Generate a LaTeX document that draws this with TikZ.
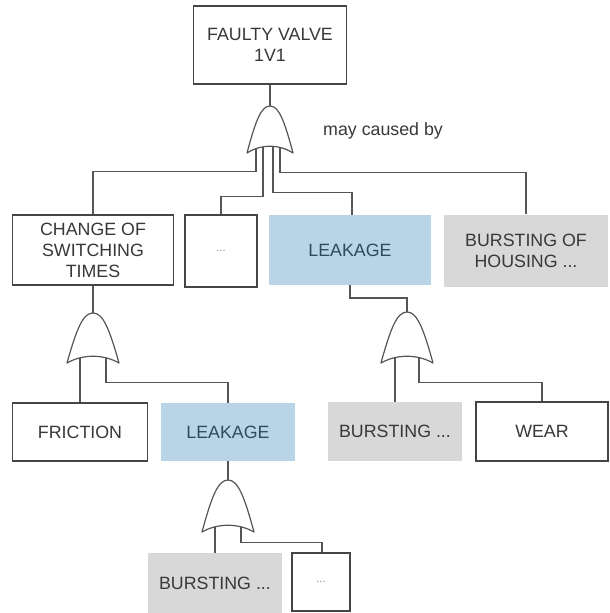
\documentclass[tikz,border=0pt]{standalone}
\usepackage{fontspec}
\setmainfont{Liberation Sans}
\usetikzlibrary{calc}
\pgfdeclarelayer{bg}
\pgfsetlayers{bg,main}

\definecolor{wiregray}{HTML}{555555}
\definecolor{framegray}{HTML}{454545}
\definecolor{txtgray}{HTML}{383838}
\definecolor{leakblue}{HTML}{B9D4E7}
\definecolor{leaktxt}{HTML}{2F4A5C}
\definecolor{burstgray}{HTML}{D8D8D8}
\definecolor{dotgray}{HTML}{8A8A8A}

\tikzset{
  evt/.style={rectangle, inner sep=0pt, align=center, text=txtgray,
    font=\fontsize{17.8}{21}\selectfont},
  whitebox/.style={evt, draw=framegray, line width=1.2pt, fill=white},
  bluebox/.style={evt, fill=leakblue, text=leaktxt},
  graybox/.style={evt, fill=burstgray},
  dotsbox/.style={whitebox, text=dotgray, font=\fontsize{11}{12}\selectfont},
  wire/.style={draw=wiregray, line width=1.2pt},
  pics/orgate/.style 2 args={code={
    \draw[draw=wiregray, line width=1.2pt, fill=white, line join=round]
      (-#1,#2) .. controls (-0.62*#1,0.3*#2) and (-0.38*#1,0) .. (0,0)
      .. controls (0.38*#1,0) and (0.62*#1,0.3*#2) .. (#1,#2)
      .. controls (0.4*#1,#2-9) and (-0.4*#1,#2-9) .. cycle;
    \coordinate (-top) at (0,0);
    \coordinate (-base) at (0,#2-10);
  }}
}

\begin{document}
\begin{tikzpicture}[x=1pt,y=-1pt]
\useasboundingbox (0,0) rectangle (610,613);

% events
\node[whitebox, minimum width=153pt, minimum height=78pt] (top) at (270,45) {FAULTY VALVE\\1V1};
\node[whitebox, minimum width=161pt, minimum height=70pt] (change) at (93,250) {CHANGE OF\\SWITCHING\\TIMES};
\node[dotsbox, minimum width=72pt, minimum height=72pt] (dotsA) at (221,251) {...};
\node[bluebox, minimum width=162pt, minimum height=70pt] (leakA) at (350,250) {LEAKAGE};
\node[graybox, minimum width=164pt, minimum height=72pt] (housing) at (526,250.5) {BURSTING OF\\HOUSING ...};
\node[whitebox, minimum width=135pt, minimum height=58pt] (friction) at (80,432) {FRICTION};
\node[bluebox, minimum width=134pt, minimum height=58pt] (leakB) at (228,432) {LEAKAGE};
\node[graybox, minimum width=134pt, minimum height=59pt] (burstA) at (395,431.5) {BURSTING ...};
\node[whitebox, minimum width=132pt, minimum height=59pt] (wear) at (542,431.5) {WEAR};
\node[graybox, minimum width=134pt, minimum height=60pt] (burstB) at (215,583) {BURSTING ...};
\node[dotsbox, minimum width=58pt, minimum height=58pt] (dotsB) at (321,582) {...};

\node[evt, anchor=west] (note) at (323,131) {may caused by};

% OR gates
\pic (gA) at (270,106) {orgate={23}{47}};
\pic (gB) at (93,313) {orgate={26}{50}};
\pic (gC) at (407,312) {orgate={26}{51}};
\pic (gD) at (228,480) {orgate={26}{52}};

% connectors
\begin{pgfonlayer}{bg}
\draw[wire] (top.south) -- (gA-top);
\draw[wire] ([xshift=-14pt]gA-base) |- ([yshift=43pt]change.north) -- (change.north);
\draw[wire] ([xshift=-7pt]gA-base) |- ([yshift=18pt]dotsA.north) -- (dotsA.north);
\draw[wire] ([xshift=3pt]gA-base) |- ([xshift=2pt,yshift=22pt]leakA.north) -- ([xshift=2pt]leakA.north);
\draw[wire] ([xshift=10pt]gA-base) |- ([yshift=42pt]housing.north) -- (housing.north);

\draw[wire] (change.south) -- (gB-top);
\draw[wire] ([xshift=-13pt]gB-base) -- (friction.north);
\draw[wire] ([xshift=13pt]gB-base) |- ([yshift=20pt]leakB.north) -- (leakB.north);

\draw[wire] (leakA.south) |- ([yshift=14pt]gC-top) -- (gC-top);
\draw[wire] ([xshift=-12pt]gC-base) -- (burstA.north);
\draw[wire] ([xshift=12pt]gC-base) |- ([yshift=19pt]wear.north) -- (wear.north);

\draw[wire] (leakB.south) -- (gD-top);
\draw[wire] ([xshift=-13pt]gD-base) -- (burstB.north);
\draw[wire] ([xshift=13pt]gD-base) |- ([xshift=1pt,yshift=10pt]dotsB.north) -- ([xshift=1pt]dotsB.north);
\end{pgfonlayer}
\end{tikzpicture}
\end{document}
